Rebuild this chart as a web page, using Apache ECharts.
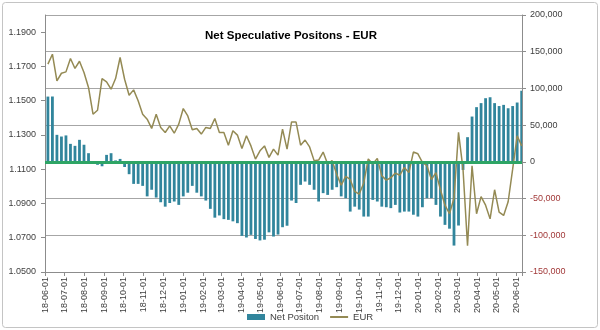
<!DOCTYPE html>
<html><head><meta charset="utf-8">
<script src="https://cdn.jsdelivr.net/npm/echarts@6/dist/echarts.min.js"></script>
<style>html,body{margin:0;padding:0;background:#fff}#c{width:600px;height:330px}</style>
</head><body><div id="c"></div>
<script>
// ---- data ----
const axisStart = '2018-06-01';
const axisEnd = '2020-06-09';
const firstWeek = '2018-06-05';
const netPositions = [
  88900, 89000, 36800, 34500, 36000, 24500, 21800, 30000, 23300, 11800,
  800, -4000, -6000, 9500, 11800, 2000, 4000, -7000,
  -16800, -30000, -30000, -32700, -47000, -38000, -48600, -55000, -61000, -56000,
  -54000, -58600, -47000, -42000, -32700, -42000, -47000, -52700, -64000, -76000,
  -73000, -78000, -79000, -81000, -83500, -100800, -103000, -99400, -105000, -107000,
  -106000, -96000, -101700, -99000, -89000, -87000, -52700, -56000,
  -31300, -26800, -31300, -38000, -54000, -42600, -45000, -38000, -34500, -47000,
  -49500, -67700, -61000, -65000, -74500, -74500, -51800, -54000, -61000, -61800,
  -63000, -58600, -69000, -67700, -67700, -72000, -74500, -61800, -49500, -49500,
  -58600, -74500, -85800, -91000, -114000, -86700, -11000,
  33600, 61700, 74500, 80000, 86700, 88000, 80000, 76000, 77600, 73000,
  76000, 80800, 97000
];
const eurRate = [
  1.1713, 1.1771, 1.1615, 1.1660, 1.1668, 1.1746, 1.1688, 1.1730, 1.1664, 1.1577,
  1.1421, 1.1444, 1.1629, 1.1610, 1.1567, 1.1629, 1.1752, 1.1625, 1.1532, 1.1563,
  1.1499, 1.1421, 1.1392, 1.1338, 1.1421, 1.1344, 1.1314, 1.1353, 1.1310, 1.1363,
  1.1454, 1.1411, 1.1330, 1.1338, 1.1305, 1.1344, 1.1338, 1.1396, 1.1314, 1.1314,
  1.1240, 1.1324, 1.1299, 1.1221, 1.1295, 1.1236, 1.1159, 1.1207, 1.1236, 1.1169,
  1.1217, 1.1182, 1.1334, 1.1217, 1.1376, 1.1375,
  1.1240, 1.1270, 1.1230, 1.1150, 1.1153, 1.1200, 1.1130, 1.1150, 1.1070, 1.1007,
  1.1058, 1.1040, 1.0970, 1.0955, 1.1020, 1.1160, 1.1130, 1.1163, 1.1061, 1.1036,
  1.1050, 1.1077, 1.1065,
  1.1110, 1.1080, 1.1200, 1.1190, 1.1140, 1.1120, 1.1040, 1.1080, 1.0980, 1.0890,
  1.0840, 1.0930, 1.1315, 1.1100, 1.0653, 1.1120, 1.0840, 1.0940, 1.0890, 1.0810,
  1.0980, 1.0850, 1.0830, 1.0910, 1.1100, 1.1295, 1.1236
];
const leftAxis = { min: 1.05, max: 1.20, interval: 0.02 };
const rightAxis = { min: -150000, max: 200000, interval: 50000 };
const titleText = 'Net Speculative Positons - EUR';
const seriesNames = ['Net Positon', 'EUR'];

// ---- build daily category axis ----
const DAY = 86400000;
const toStr = t => new Date(t).toISOString().slice(0, 10);
const t0 = Date.parse(axisStart + 'T00:00:00Z');
const t1 = Date.parse(axisEnd + 'T00:00:00Z');
const days = [];
for (let t = t0; t <= t1; t += DAY) days.push(toStr(t));
const barData = days.map(() => null);
const lineData = days.map(() => null);
const w0 = Date.parse(firstWeek + 'T00:00:00Z');
netPositions.forEach((v, i) => {
  const idx = days.indexOf(toStr(w0 + i * 7 * DAY));
  if (idx >= 0) barData[idx] = v;
});
eurRate.forEach((v, i) => {
  const idx = days.indexOf(toStr(w0 + i * 7 * DAY));
  if (idx >= 0) lineData[idx] = v;
});
const isMonthStart = (i, v) => v.slice(8) === '01';

const FONT = 'Liberation Sans';
const chart = echarts.init(document.getElementById('c'), null, { renderer: 'canvas' });
chart.setOption({
  animation: false,
  backgroundColor: '#ffffff',
  textStyle: { fontFamily: FONT },
  graphic: [
    { type: 'rect', shape: { x: 2.5, y: 2.5, width: 595, height: 325, r: 3 },
      style: { fill: 'none', stroke: '#c4c4c4', lineWidth: 1 }, silent: true }
  ],
  title: {
    text: titleText, left: 286, top: 25, textAlign: 'center',
    textStyle: { fontFamily: FONT, fontSize: 11.5, fontWeight: 'bold', color: '#000' }
  },
  legend: {
    left: 242, top: 307, itemWidth: 18, itemHeight: 6, itemGap: 10,
    textStyle: { fontFamily: FONT, fontSize: 9.5, color: '#404040' },
    data: [
      { name: seriesNames[0], icon: 'rect' },
      { name: seriesNames[1], itemStyle: { opacity: 0 } }
    ]
  },
  grid: { left: 45, right: 78, top: 15, bottom: 58 },
  xAxis: {
    type: 'category', data: days, boundaryGap: true,
    axisLine: { onZero: false, lineStyle: { color: '#8c8c8c', width: 1 } },
    axisTick: { show: true, interval: isMonthStart, length: 4, lineStyle: { color: '#8c8c8c' } },
    axisLabel: {
      interval: isMonthStart, rotate: 90, fontSize: 9, color: '#404040', fontFamily: FONT,
      margin: 5, formatter: v => v.slice(2)
    },
    splitLine: { show: false }
  },
  yAxis: [
    {
      type: 'value', position: 'left', min: leftAxis.min, max: leftAxis.max, interval: leftAxis.interval,
      axisLine: { show: true, lineStyle: { color: '#8c8c8c' } },
      axisTick: { show: true, length: 4, lineStyle: { color: '#8c8c8c' } },
      axisLabel: { fontSize: 9, color: '#404040', fontFamily: FONT, margin: 9, showMaxLabel: false,
        formatter: v => v.toFixed(4) },
      splitLine: { show: false }
    },
    {
      type: 'value', position: 'right', min: rightAxis.min, max: rightAxis.max, interval: rightAxis.interval,
      axisLine: { show: true, lineStyle: { color: '#8c8c8c' } },
      axisTick: { show: true, length: 4, lineStyle: { color: '#8c8c8c' } },
      axisLabel: { fontSize: 9, fontFamily: FONT, margin: 8,
        color: v => (Number(v) < 0 ? '#a23a3a' : '#404040'),
        formatter: v => v.toLocaleString('en-US') },
      splitLine: { show: true, lineStyle: { color: '#a6a6a6', width: 1 } }
    }
  ],
  series: [
    {
      name: seriesNames[0], type: 'bar', yAxisIndex: 1, data: barData,
      barWidth: 2.8, itemStyle: { color: '#31859c' },
      markLine: {
        silent: true, symbol: ['none', 'none'], label: { show: false },
        lineStyle: { color: '#2ea565', width: 3, type: 'solid' },
        data: [{ yAxis: 0 }]
      }
    },
    {
      name: seriesNames[1], type: 'line', yAxisIndex: 0, data: lineData,
      connectNulls: true, symbol: 'none', showSymbol: false,
      lineStyle: { color: '#948a54', width: 1.5 }, itemStyle: { color: '#948a54' }
    }
  ]
});
</script></body></html>
